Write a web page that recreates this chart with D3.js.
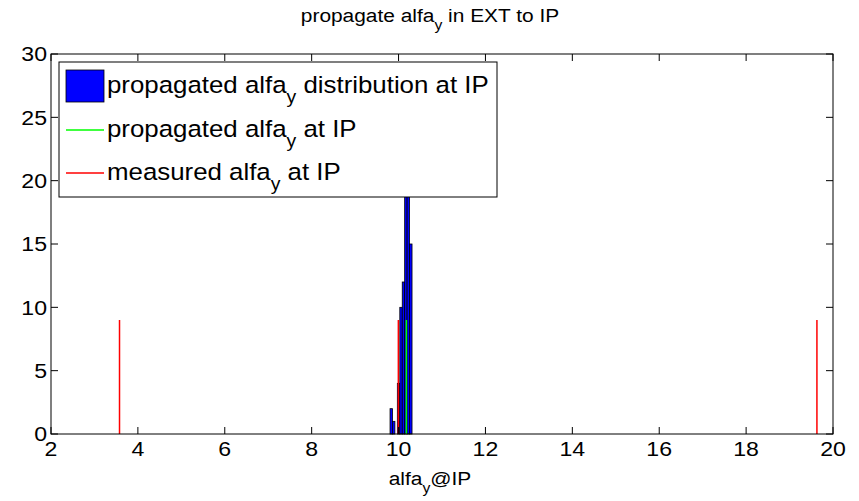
<!DOCTYPE html>
<head>
<meta charset="utf-8">
<script src="https://d3js.org/d3.v7.min.js"></script>
<style>
body { margin: 0; background: #fff; }
text { font-family: "Liberation Sans", Arial, Helvetica, sans-serif; fill: #000; }
</style>
</head>
<body>
<div id="chart"></div>
<script>
// histogram of propagated alfa_y (bin centres and counts)
var binCenters = [9.832, 9.888, 9.944, 10.000, 10.057, 10.113, 10.169, 10.225, 10.282];
var binCounts  = [2, 1, 0, 4, 10, 12, 21, 21, 15];
var binWidth = 0.0562;
// propagated value at IP (green) and measured values (red)
var greenX = [10.18];
var greenH = [9];
var redX = [3.577, 9.995, 19.63];
var redH = [9, 9, 9];
var xTicks = [2, 4, 6, 8, 10, 12, 14, 16, 18, 20];
var yTicks = [0, 5, 10, 15, 20, 25, 30];

var W = 859, H = 501;
var stretch = 1.1; // the reference text is drawn a bit wider than normal
var svg = d3.select("#chart").append("svg")
  .attr("width", W).attr("height", H);

var x = d3.scaleLinear().domain([2, 20]).range([51, 833]);
var y = d3.scaleLinear().domain([0, 30]).range([434, 54]);

function widen(sel, ax) {
  sel.attr("transform", "translate(" + ax + ",0) scale(" + stretch + ",1) translate(" + (-ax) + ",0)");
}

// histogram bars
svg.selectAll("rect.bar").data(binCenters).enter().append("rect")
  .attr("class", "bar")
  .attr("x", function(d) { return x(d - binWidth / 2); })
  .attr("width", function(d) { return x(d + binWidth / 2) - x(d - binWidth / 2); })
  .attr("y", function(d, i) { return y(binCounts[i]); })
  .attr("height", function(d, i) { return y(0) - y(binCounts[i]); })
  .style("fill", "#0000ff")
  .style("stroke", "#000")
  .style("stroke-width", 0.8)
  .style("display", function(d, i) { return binCounts[i] > 0 ? null : "none"; });

// green line
svg.selectAll("line.green").data(greenX).enter().append("line")
  .attr("x1", function(d) { return x(d); })
  .attr("x2", function(d) { return x(d); })
  .attr("y1", y(0))
  .attr("y2", function(d, i) { return y(greenH[i]); })
  .style("stroke", "#00ff00").style("stroke-width", 1.5);

// red lines
svg.selectAll("line.red").data(redX).enter().append("line")
  .attr("x1", function(d) { return x(d); })
  .attr("x2", function(d) { return x(d); })
  .attr("y1", y(0))
  .attr("y2", function(d, i) { return y(redH[i]); })
  .style("stroke", "#ff0000").style("stroke-width", 1.5);

// box and ticks
var tickLen = 7;
xTicks.forEach(function(t) {
  svg.append("line").attr("x1", x(t)).attr("x2", x(t))
    .attr("y1", y(0)).attr("y2", y(0) - tickLen)
    .style("stroke", "#000").style("stroke-width", 1);
  svg.append("line").attr("x1", x(t)).attr("x2", x(t))
    .attr("y1", y(30)).attr("y2", y(30) + tickLen)
    .style("stroke", "#000").style("stroke-width", 1);
  svg.append("text")
    .attr("x", x(t)).attr("y", 456)
    .attr("text-anchor", "middle")
    .style("font-size", "21px")
    .text(t)
    .call(widen, x(t));
});
yTicks.forEach(function(t) {
  svg.append("line").attr("x1", x(2)).attr("x2", x(2) + tickLen)
    .attr("y1", y(t)).attr("y2", y(t))
    .style("stroke", "#000").style("stroke-width", 1);
  svg.append("line").attr("x1", x(20)).attr("x2", x(20) - tickLen)
    .attr("y1", y(t)).attr("y2", y(t))
    .style("stroke", "#000").style("stroke-width", 1);
  svg.append("text")
    .attr("x", 47).attr("y", y(t) + 7.5)
    .attr("text-anchor", "end")
    .style("font-size", "21px")
    .text(t)
    .call(widen, 47);
});
svg.append("rect")
  .attr("x", x(2)).attr("y", y(30))
  .attr("width", x(20) - x(2)).attr("height", y(0) - y(30))
  .style("fill", "none").style("stroke", "#000").style("stroke-width", 1);

// text with subscript y
function subText(g, px, py, before, after, size, anchor) {
  var t = g.append("text").attr("x", px).attr("y", py)
    .attr("text-anchor", anchor || "start")
    .style("font-size", size + "px");
  t.append("tspan").text(before);
  t.append("tspan").attr("dy", size * 0.42).style("font-size", (size * 0.75) + "px").text("y");
  t.append("tspan").attr("dy", -size * 0.42).text(after);
  t.call(widen, px);
  return t;
}

// title and x label
subText(svg, 430, 22, "propagate alfa", " in EXT to IP", 19, "middle");
subText(svg, 430, 485, "alfa", "@IP", 19, "middle");

// legend
var lg = svg.append("g");
lg.append("rect")
  .attr("x", 59).attr("y", 62).attr("width", 438).attr("height", 135)
  .style("fill", "#fff").style("stroke", "#000").style("stroke-width", 1);
lg.append("rect")
  .attr("x", 66).attr("y", 70).attr("width", 38).attr("height", 32)
  .style("fill", "#0000ff").style("stroke", "#000").style("stroke-width", 0.8);
lg.append("line").attr("x1", 66).attr("x2", 104).attr("y1", 130).attr("y2", 130)
  .style("stroke", "#00ff00").style("stroke-width", 1.5);
lg.append("line").attr("x1", 66).attr("x2", 104).attr("y1", 173).attr("y2", 173)
  .style("stroke", "#ff0000").style("stroke-width", 1.5);
subText(lg, 107, 93, "propagated alfa", " distribution at IP", 23.5);
subText(lg, 107, 137, "propagated alfa", " at IP", 23.5);
subText(lg, 107, 180, "measured alfa", " at IP", 23.5);
</script>
</body>
